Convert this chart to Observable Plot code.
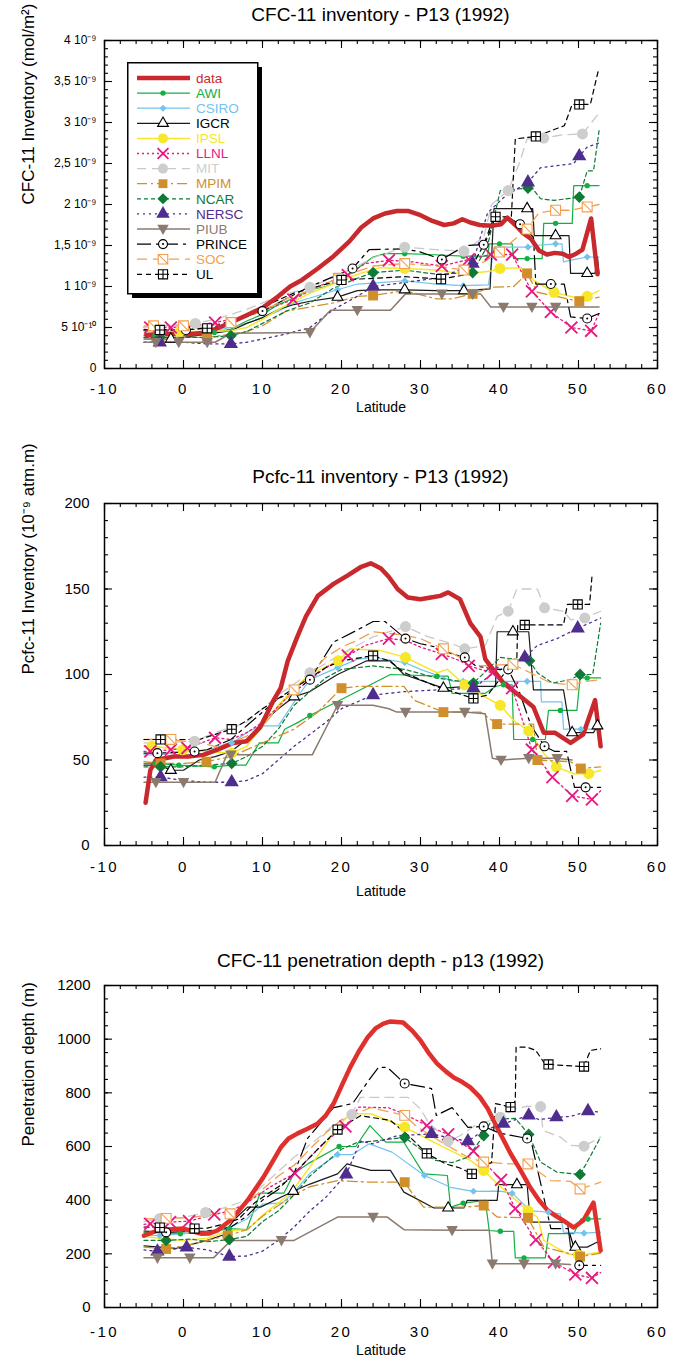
<!DOCTYPE html>
<html><head><meta charset="utf-8">
<script src="https://cdn.jsdelivr.net/npm/d3@7"></script>
<script src="https://cdn.jsdelivr.net/npm/@observablehq/plot@0.6"></script>
<style>
body{margin:0;background:#fff;font-family:"Liberation Sans",Arial,Helvetica,sans-serif;}
#root{position:relative;width:675px;height:1365px;overflow:hidden;background:#fff;}
.title{position:absolute;left:104px;width:553px;text-align:center;font-size:19px;line-height:22px;color:#000;}
.panel{position:absolute;left:0;}
.legend{position:absolute;}
</style></head><body><div id="root"></div>
<script>
// ---------- tick labels ----------
const xMajorTicks = [-10, 0, 10, 20, 30, 40, 50, 60];
const xTickLabels = ["-10", "0", "10", "20", "30", "40", "50", "60"];
const p1YTicks = [0, 0.5, 1, 1.5, 2, 2.5, 3, 3.5, 4];
const p1YLabels = ["0", "5 10⁻¹⁰", "1 10⁻⁹", "1,5 10⁻⁹", "2 10⁻⁹", "2,5 10⁻⁹", "3 10⁻⁹", "3,5 10⁻⁹", "4 10⁻⁹"];
const p2YTicks = [0, 50, 100, 150, 200];
const p2YLabels = ["0", "50", "100", "150", "200"];
const p3YTicks = [0, 200, 400, 600, 800, 1000, 1200];
const p3YLabels = ["0", "200", "400", "600", "800", "1000", "1200"];
const titles = ["CFC-11 inventory - P13 (1992)", "Pcfc-11 inventory - P13 (1992)", "CFC-11 penetration depth - p13 (1992)"];
const yTitles = ["CFC-11 Inventory (mol/m²)", "Pcfc-11 Inventory (10⁻⁹ atm.m)", "Penetration depth (m)"];
const modelNames = ["AWI","CSIRO","IGCR","IPSL","LLNL","MIT","MPIM","NCAR","NERSC","PIUB","PRINCE","SOC","UL"];

// ---------- PANEL 1 : CFC-11 inventory (units of 1e-9 mol/m2) [lat, value, marker] ----------
const p1_data = [[-4.7,0.41],[-3,0.42],[-1,0.42],[1,0.42],[3,0.44],[4.5,0.5],[6,0.56],[8,0.65],[10,0.74],[12,0.88],[13.5,1.0],[15,1.08],[17,1.22],[19,1.37],[21,1.55],[22.5,1.72],[24,1.83],[25.5,1.89],[27,1.92],[28.5,1.92],[30,1.87],[31.5,1.8],[33,1.75],[34.2,1.77],[35.3,1.82],[36.3,1.78],[37.5,1.75],[39,1.74],[40.2,1.76],[41,1.84],[42,1.75],[43,1.65],[44,1.58],[45,1.44],[46,1.39],[47,1.41],[48,1.40],[48.8,1.36],[49.7,1.40],[50.5,1.45],[51.6,1.83],[52.4,1.15]];
const p1_AWI = [[-5,0.40],[-3.6,0.41,1],[-0.6,0.42,1],[3.9,0.44,1],[6,0.48],[8,0.58],[10,0.66],[12,0.78],[14,0.86],[16,0.96,1],[18,1.0],[20,1.08],[22,1.22],[24,1.36],[25.5,1.40],[28,1.40,1],[31,1.39],[35.4,1.37,1],[38.5,1.37],[38.7,1.52],[40,1.52,1],[41.6,1.52],[41.8,1.34],[43.5,1.34,1],[45.4,1.34],[45.6,1.77],[47.1,1.77,1],[49.2,1.77],[49.4,2.23],[51.1,2.23,1],[52.6,2.23]];
const p1_CSIRO = [[-5,0.42],[-3,0.42,1],[0,0.43],[3,0.45],[6,0.50],[8,0.55],[10,0.62],[12,0.70],[14,0.80],[16,0.86],[19.5,0.96,1],[22,1.03],[24,1.04],[28,1.07,1],[32,1.03],[35.4,1.01,1],[38.6,1.02],[39.3,1.48],[43.6,1.48,1],[44.5,1.50],[47.1,1.52,1],[47.9,1.52],[48.1,1.30],[49.5,1.33],[51.1,1.36,1],[52.6,1.36]];
const p1_IGCR = [[-5,0.36],[-1.6,0.36,1],[0,0.38],[3,0.42],[6,0.46],[8,0.55],[10,0.62],[12,0.72],[14,0.78],[16,0.82],[19.5,0.87,1],[22,0.95],[24,0.96],[28,0.96,1],[32,0.95],[35.5,0.95,1],[38.8,0.97],[39.3,1.95],[43.5,1.95,1],[44.2,1.95],[44.4,1.62],[47.1,1.62,1],[48.8,1.62],[49,1.16],[51.1,1.16,1],[52.1,1.16],[52.4,1.36],[52.6,1.16]];
const p1_IPSL = [[-5,0.45],[-3.5,0.45],[-0.5,0.45,1],[3,0.45],[6,0.46],[8,0.5],[10,0.6],[12,0.72],[14,0.82],[16,0.92],[19.5,1.05],[22,1.15],[24.9,1.23],[28,1.22,1],[32,1.2],[35.5,1.15],[38.9,1.19],[40.05,1.22,1],[42.7,1.23],[44.4,1.07],[46.9,0.93,1],[49.4,0.87],[51.1,0.88,1],[52.6,0.95]];
const p1_LLNL = [[-5,0.5],[-4.2,0.5,1],[-1.6,0.5,1],[1,0.52],[4,0.56,1],[7,0.62],[10,0.70],[13.9,0.84,1],[17,1.0],[20.8,1.14,1],[23,1.28],[26,1.32,1],[29,1.3],[32.7,1.25,1],[36.1,1.33,1],[38.9,1.39,1],[41.6,1.39,1],[44.1,0.94,1],[46.5,0.69,1],[49.1,0.50,1],[51.6,0.46,1],[52.6,0.67]];
const p1_MIT = [[-5,0.5],[-3,0.52],[1.5,0.55,1],[4,0.6],[8,0.72],[12,0.88],[16,0.99,1],[20,1.15],[24,1.35],[28,1.48,1],[32,1.45],[35.5,1.43,1],[38,1.6],[39,2.0],[41.1,2.17,1],[42.5,2.5],[43.5,2.8],[45.6,2.81,1],[48,2.85],[50.5,2.86,1],[52.4,3.09]];
const p1_MPIM = [[-5,0.38],[-3,0.38,1],[0,0.38],[3,0.38,1],[6,0.42],[8,0.45],[10,0.52],[13,0.7],[16,0.75],[19,0.8],[22,0.88],[24,0.89,1],[28,0.95],[32,0.85],[34,0.85],[36.6,0.91,1],[38.9,0.99],[41.8,1.0],[43.5,1.16,1],[44.8,0.93],[48.6,0.85],[50.1,0.82,1],[52.6,0.87]];
const p1_NCAR = [[-5,0.38],[-3,0.38,1],[0,0.38],[3,0.38],[6,0.40,1],[8,0.45],[10,0.55],[13,0.7],[16,0.8],[19,0.98],[22,1.1],[24,1.17,1],[28,1.2],[32,1.15],[36.6,1.17,1],[38.5,1.5],[40.1,2.17],[43.6,2.2,1],[43.9,2.23],[45.2,2.07],[46.9,2.05],[50.1,2.09,1],[51.1,2.41],[51.9,2.41],[52.6,2.9]];
const p1_NERSC = [[-5,0.32],[-3,0.32,1],[0,0.32],[3,0.30],[6,0.30,1],[8,0.32],[10,0.36],[13,0.42],[16,0.5],[19,0.72],[22,0.88],[24,1.0,1],[28,1.05],[32,1.1],[35,1.2],[36.6,1.28,1],[38.5,1.9],[40.7,2.1],[43.6,2.27,1],[45.2,2.45],[49.4,2.5],[50.1,2.59,1],[51.1,2.7],[52.6,2.75]];
const p1_PIUB = [[-5,0.32],[-3.5,0.32,1],[-0.6,0.32,1],[3,0.32,1],[4,0.32],[6,0.43],[16,0.44,1],[18.6,0.71],[22,0.71,1],[26.2,0.71],[28.1,0.91],[32.7,0.91,1],[36.6,0.91,1],[37.6,0.91],[38.9,0.75],[40.5,0.75,1],[44.1,0.75,1],[47.1,0.75,1],[52.6,0.75]];
const p1_PRINCE = [[-5,0.47],[0.3,0.47,1],[3,0.5],[6,0.58],[10,0.70,1],[13,0.85],[16,1.0],[19,1.12],[21.4,1.22,1],[23.5,1.45],[28,1.46],[30,1.42],[32.7,1.33,1],[35.7,1.5],[38,1.51,1],[39.2,1.82],[41,1.85],[42.6,1.76,1],[44.3,1.6],[44.6,1.03],[46.5,1.03,1],[48.2,1.03],[49,0.63],[51.1,0.61,1],[52.6,0.67]];
const p1_SOC = [[-5,0.52],[-3.8,0.52,1],[0,0.52,1],[3,0.52],[6,0.56,1],[10,0.7],[13,0.85],[16,0.95],[19.6,1.1,1],[24,1.25],[28,1.28,1],[32,1.25],[35.5,1.2,1],[38,1.3],[40,1.42,1],[43.5,1.7,1],[45,1.9],[47.1,1.93,1],[49,1.93],[51.1,1.97,1],[52.6,2.0]];
const p1_UL = [[-5,0.47],[-3,0.47,1],[0,0.47],[3,0.49,1],[6,0.55],[10,0.75],[14,0.92],[17,1.0],[20,1.08,1],[24,1.1],[28,1.12],[32.6,1.09,1],[36,1.15],[38.5,1.6],[39.5,1.85,1],[41.5,1.85],[42,2.8],[44.6,2.83,1],[48.2,2.96],[49.2,3.22],[50.1,3.22,1],[51.5,3.22],[52.5,3.63]];

// ---------- PANEL 2 : pCFC-11 inventory (1e-9 atm.m) ----------
const p2_data = [[-4.8,25],[-4.2,44],[-3.5,50],[-1.2,52],[0.6,52],[2.5,53],[4.3,56],[6.3,60],[8,61],[9.7,69],[11.4,85],[12.3,92],[13.2,108],[14.4,122],[15.5,134],[17,146],[19,153],[20.8,158],[22.5,163],[23.7,165],[25,162],[26,157],[27.1,150],[28.4,145],[30,144],[31.3,145],[32.5,146],[33.5,148],[35,144],[36.3,130],[37.6,122],[38.2,109],[40.5,95],[42.7,87],[44.3,81],[45.6,66],[47,66],[49,60],[50.6,65],[52.1,85],[52.8,58]];
const p2_AWI = [[-5,48],[-3.6,48,1],[-0.6,47,1],[3.9,46,1],[6,47],[7.9,47],[9.6,60],[12,60],[12.8,68],[14.5,72],[16,76,1],[26.2,100],[32.1,99,1],[33.5,99],[34,89],[38.2,89],[39.5,93],[40.5,94,1],[41.6,94],[41.8,62],[44.2,62,1],[45.8,62],[46.2,79],[47.7,79,1],[49.8,79],[50.2,98],[51.1,98,1],[52.8,98]];
const p2_CSIRO = [[-5,53],[-3,53],[0,55],[3,56],[6.1,60,1],[8,66],[9.7,70],[12,70],[14.6,88],[16,97],[19.5,104,1],[22,109],[24,110],[28,107,1],[30,103],[34.2,96],[35.4,96,1],[39,96],[43.5,96,1],[45.2,96],[45.3,84],[47.9,84],[48.1,68],[50.3,68,1],[52.8,68]];
const p2_IGCR = [[-5,47],[-3,47],[-1.6,44,1],[0,44],[2,50],[4,52],[6,55],[8,62],[10,72],[12,80],[14,87,1],[16,90],[19.5,100],[23.2,108],[26.2,108],[27.9,100],[32.9,92,1],[36,93],[39.5,93],[39.7,125],[41.7,125,1],[43.7,125],[44.3,91],[48.1,91],[49,66],[49.2,66,1],[51.9,66],[52.4,70,1],[52.8,70]];
const p2_IPSL = [[-5,58],[-4,58,1],[-0.1,56,1],[3,55],[6.1,54,1],[8,58],[10,70],[12,82],[14,92],[16,100],[19.6,108,1],[21.1,115],[24.9,114],[28.1,110,1],[32.1,101],[33.4,103],[35.6,94,1],[38.5,86],[40.1,82,1],[41.8,73],[43.7,67,1],[45.6,54],[47.2,46,1],[49.4,42],[51.3,42,1],[52.8,44]];
const p2_LLNL = [[-5,55],[-4.2,55,1],[-1.6,56,1],[0.5,57,1],[4,63,1],[6,62],[8,66],[10,72],[13,86],[16,97],[18,104],[20.8,111,1],[23,117],[26,121,1],[28,120],[30,116],[32.7,112,1],[35,108],[36.1,105,1],[39.1,101,1],[41.6,92,1],[43,72],[44.1,56,1],[46.7,40,1],[49.2,29,1],[51.7,27,1],[52.8,32]];
const p2_MIT = [[-5,60],[-3,60],[1.4,61,1],[4,66],[8,72],[12,88],[16,101,1],[20,112],[24,122],[28.1,128,1],[31,122],[34,118],[35.6,115,1],[38.2,117],[39.7,134],[41.1,137,1],[42.2,150],[44.8,150],[45.7,139,1],[48.1,137],[49,132],[50.8,133,1],[52.8,137]];
const p2_MPIM = [[-5,49],[-2.9,48,1],[0,48],[2.9,49,1],[6,52],[10,60],[14,68],[17,78],[20,92,1],[22,93],[27.9,93],[29.2,85],[32.9,78,1],[37.6,78],[39.7,71,1],[44.3,71],[44.8,50,1],[49,49],[50.3,45,1],[52.8,46]];
const p2_NCAR = [[-5,46],[-2.9,46,1],[0,46],[3,47],[6.1,48,1],[8,52],[10,58],[12,68],[14,82],[16,90],[18,98],[20,103],[24,105],[28,103],[32,98],[36.7,95,1],[40.1,110],[43.8,108,1],[44.8,101],[46.7,95],[49,97],[50.2,100,1],[51.8,100],[52.8,130]];
const p2_NERSC = [[-5,40],[-2.9,40,1],[0,38],[3,37],[6.1,37,1],[8,38],[10,42],[12,50],[14,58],[16,65],[18,72],[20,80],[24,88,1],[28,90],[32,91],[36.7,92,1],[39,100],[41,105],[43.2,110,1],[44.8,117],[47.3,121],[49.9,127,1],[52.8,133]];
const p2_PIUB = [[-5,37],[-3.5,37,1],[0,37,1],[4,37],[5.5,53],[6,53,1],[16.3,53],[19.5,82,1],[24,82],[26,80],[27,78],[28.1,78,1],[35.6,78,1],[38.2,77],[39.1,51],[40.2,50,1],[43.7,51,1],[47.3,51,1],[49.2,50]];
const p2_PRINCE = [[-5,54],[-3.3,54,1],[1.4,55,1],[3,56],[6,62],[8,70],[10,78],[12,86],[14,90],[16,97,1],[19,119],[22,126],[24,131],[25.5,131],[28.1,121,1],[30,118],[32,116],[34,112],[35.6,110,1],[37,105],[39.5,103],[41.1,103,1],[42.5,90],[44,70],[45.7,58,1],[47,55],[48.5,55],[49.5,34],[50.9,34,1],[52.8,34]];
const p2_SOC = [[-5,62],[-1.6,62,1],[2,60],[4,58],[6,60],[8,64],[10,70],[14,91,1],[16,100],[18,110],[20,116],[22,120],[24,125],[28,123],[30,121],[32.9,115,1],[35,110],[37.6,105],[41.7,106,1],[43.9,101],[46.5,95],[49.2,94,1],[51,96],[52.8,97]];
const p2_UL = [[-5,62],[-2.9,62,1],[2,62],[4,65],[6.1,68,1],[8,73],[10,80],[12,86],[14,92],[16,98],[18,104],[20,108],[24,111,1],[26,108],[28,101],[32,93],[36.7,86,1],[38.5,88],[40.5,100],[42.2,110],[42.3,129],[43.2,129,1],[48.1,129],[48.6,141],[49.9,141,1],[51.4,141],[51.7,157]];

// ---------- PANEL 3 : penetration depth (m) ----------
const p3_data = [[-5,268],[-3.3,287],[-1.5,292],[0,294],[1,285],[2.2,275],[3.3,276],[4.3,287],[5.9,324],[7,360],[8.1,399],[10.1,485],[11.2,540],[12.3,596],[13.3,630],[14.4,648],[15.7,666],[17,686],[18,715],[19,760],[20,825],[21.1,895],[22.2,955],[23.3,1006],[24.3,1040],[25.3,1058],[26.2,1066],[27.8,1062],[29,1030],[30,995],[31,950],[32.1,909],[33.2,880],[34.2,857],[35.3,840],[36.3,820],[37.5,785],[38.5,742],[39.7,671],[40.5,625],[41.4,574],[42.6,515],[43.9,447],[45,400],[46.1,362],[47.2,340],[48.1,324],[49.4,298],[50.6,324],[51.3,360],[51.9,391],[52.8,212]];
const p3_AWI = [[-5,280],[-2.5,278],[-0.4,275,1],[3,280],[5.8,294,1],[8,290],[9.7,426],[12.7,426],[14,500],[16,540],[19.7,600,1],[21.8,600],[23.6,678],[25.6,616],[27.9,616],[30.4,498],[33.4,492],[33.8,374],[35.4,389,1],[38.2,399],[38.7,287],[40.1,284,1],[41.8,284],[42,185],[43.1,185,1],[45.8,185],[46.2,275],[49.4,275],[50.3,330],[51.2,330,1],[52.8,330]];
const p3_CSIRO = [[-5,270],[-3,268,1],[0,275],[3,280],[6,300],[8,330],[10,385],[12.5,390],[14,430],[16,500],[19.5,570,1],[21.4,570],[23.5,610],[26.4,579],[30.5,492,1],[33.8,448],[36.7,433,1],[40.1,434],[41.6,426,1],[43.9,361],[46.2,355,1],[47.7,349],[48.1,281],[50.7,277,1],[52.8,281]];
const p3_IGCR = [[-5,230],[-3,225],[-1,220],[1,235],[3,250],[5,270],[6.5,330],[8.1,374],[9.75,374],[13.9,433,1],[16,460],[19.5,498],[20.7,535],[23.7,511],[26.2,511],[27.9,430],[31.7,371],[33.5,371,1],[35.5,371],[35.9,399],[39.7,399],[39.9,458],[42.2,458,1],[43.5,458],[43.9,318],[48.6,318],[49,225],[49.6,225,1],[51.1,225],[52.4,244],[52.8,225]];
const p3_IPSL = [[-5,265],[-3,258],[0,250],[3,258],[5.9,287],[8.1,290],[10.2,349],[13.5,424],[16,523],[19.5,672],[21.1,722],[23.7,722],[28,672,1],[32.1,610],[36.3,548],[38,511,1],[39.7,461],[43.6,361,1],[44.8,337],[45.6,250],[48.6,200],[50,195,1],[52.8,206]];
const p3_LLNL = [[-5,310],[-4.2,312,1],[-1.7,318,1],[0.7,322,1],[3.9,347,1],[6,360],[8,390],[11,450],[14.1,500,1],[16,560],[18,620],[20.5,675,1],[22.2,747],[26,744],[28,720],[30.8,678,1],[33.5,645,1],[36.7,583,1],[40.2,476,1],[42,368,1],[44.6,252,1],[46.9,169,1],[49.6,123,1],[51.7,110,1],[52.8,130]];
const p3_MIT = [[-5,320],[-3,332,1],[0,335],[2.8,354,1],[5,370],[8,400],[11,480],[14,560],[17,630],[19,680],[21.3,719,1],[22.4,783],[28.4,783],[30,740],[31,690],[33.5,620,1],[35,640],[37,680],[40.1,709,1],[42,740],[43.5,750],[45.2,749,1],[45.5,660],[47.7,635],[49,604],[50.7,601,1],[52.8,635]];
const p3_MPIM = [[-5,225],[-2.2,218,1],[1,235],[3,250],[5.6,268,1],[8,290],[10,340],[12,380],[14,420],[16,450],[19.5,473],[23.7,467],[28,467,1],[28.7,436],[30.4,374],[35.5,374],[38,380,1],[39.7,337],[43.6,334,1],[45.6,225],[49,200],[50.2,190,1],[52.8,203]];
const p3_NCAR = [[-5,250],[-2.2,250,1],[1,255],[3,245],[5.8,253,1],[8,265],[10,320],[12,360],[14,420],[16,490],[18,540],[20,590],[22,615],[24,620],[28,634,1],[30,590],[31.9,548],[34,540],[36,560],[38,641,1],[39,700],[42,705],[43.7,645,1],[45.2,542],[47.3,504],[50.2,496,1],[51.1,542],[52.8,635]];
const p3_NERSC = [[-5,215],[-3.3,209,1],[0.4,224,1],[3,215],[5.8,190,1],[8,192],[10,210],[12,250],[14,300],[16,360],[18,410],[20.6,496,1],[22.4,620],[24,610],[27,640],[31.4,647,1],[34,630],[36,620,1],[38,660],[40.5,685,1],[43.7,716,1],[45,700],[47.2,709,1],[49,712],[51.2,732,1],[52.8,728]];
const p3_PIUB = [[-5,185],[-3.3,185,1],[0.8,185,1],[3.8,185],[6,250],[12.4,250,1],[14,250],[19.5,337],[24,337,1],[25.8,337],[27.9,290],[34,288,1],[38.7,288],[39.1,163,1],[43.1,163,1],[47.1,163,1],[49,160]];
const p3_PRINCE = [[-5,285],[-2.2,280,1],[1,283],[3,285],[6,300],[8,340],[10,400],[12,440],[14,500],[15.7,630],[19,745],[21.4,760],[23.7,857],[24.7,895],[25.8,895],[28,835,1],[31.4,816],[32,716],[34,745],[36,671],[38,675,1],[40,650],[43.5,630,1],[44,620],[46.5,294],[48.7,294],[50.1,157,1],[52.8,157]];
const p3_SOC = [[-5,330],[-2.2,332,1],[1,335],[3,345],[5.9,349,1],[8,390],[10,440],[12,490],[14,530],[16,590],[18,650],[20,700],[23.7,745],[28,716,1],[29.6,672],[33,610],[36,560],[38,542,1],[41.4,535],[43.6,535,1],[46.5,473],[49,470],[50.2,442,1],[52.8,467]];
const p3_UL = [[-5,300],[-3,298,1],[0,290],[1.4,294,1],[3,296],[5,310],[7,330],[9,390],[11,430],[13,470],[15,530],[17,590],[19.5,663,1],[22.4,715],[26.2,697],[28.5,640],[30.8,574,1],[33.2,535],[35,520],[36.5,498,1],[38,530],[39,540],[39.5,760],[41.4,747,1],[42,770],[42.1,970],[43.5,970],[44.6,958],[45.6,914],[46.2,906,1],[48.1,902],[50.7,898,1],[51.5,958],[52.8,964]];

// ---------- symbols & styles ----------
const downTri = {draw(ctx, size){const r=Math.sqrt(size/Math.PI); const h=r*1.15; ctx.moveTo(-h,-h*0.75); ctx.lineTo(h,-h*0.75); ctx.lineTo(0,h*1.05); ctx.closePath();}};
const socSym = {draw(ctx, size){const r=Math.sqrt(size/Math.PI)*0.95; ctx.moveTo(-r,-r); ctx.lineTo(r,-r); ctx.lineTo(r,r); ctx.lineTo(-r,r); ctx.closePath(); ctx.moveTo(-r,-r); ctx.lineTo(r,r);}};
const ulSym = {draw(ctx, size){const r=Math.sqrt(size/Math.PI)*0.95; ctx.moveTo(-r,-r); ctx.lineTo(r,-r); ctx.lineTo(r,r); ctx.lineTo(-r,r); ctx.closePath(); ctx.moveTo(0,-r); ctx.lineTo(0,r); ctx.moveTo(-r,0); ctx.lineTo(r,0);}};
const styles = {
  AWI:{color:"#12b044", w:1.2, sym:"circle", r:2.7, fill:"#12b044"},
  CSIRO:{color:"#72c4ee", w:1.2, sym:"diamond2", r:3.2, fill:"#72c4ee"},
  IGCR:{color:"#1a1a1a", w:1.2, sym:"triangle", r:4, fill:"#fff", stroke:"#000"},
  IPSL:{color:"#f6e72a", w:1.5, sym:"circle", r:5.5, fill:"#f6e72a"},
  LLNL:{color:"#e6197f", w:1.3, dash:"2,3", sym:"times", r:5.5, fill:"none", stroke:"#e6197f", sw:1.8},
  MIT:{color:"#c9c9c9", w:1.3, dash:"9,6", sym:"circle", r:5.5, fill:"#cdcdcd"},
  MPIM:{color:"#d18f2b", w:1.3, dash:"10,4,2,4", sym:"square", r:5.6, fill:"#d18f2b"},
  NCAR:{color:"#0e7a35", w:1.2, dash:"4,3", sym:"diamond2", r:5.3, fill:"#0e7a35"},
  NERSC:{color:"#4f2d8e", w:1.3, dash:"2,4", sym:"triangle", r:5.3, fill:"#4f2d8e"},
  PIUB:{color:"#8b7a6f", w:1.5, sym:downTri, r:5, fill:"#8b7a6f"},
  PRINCE:{color:"#000", w:1.2, dash:"14,5,3,5", sym:"circle", r:4.5, fill:"#fff", stroke:"#000", dot:true},
  SOC:{color:"#f2a04f", w:1.3, dash:"10,6", sym:socSym, r:5.2, fill:"#fff", stroke:"#f2a04f"},
  UL:{color:"#000", w:1.2, dash:"5,4", sym:ulSym, r:4.8, fill:"#fff", stroke:"#000"}
};
const dataColor = "#c9282d";

const root = document.getElementById("root");
const W = 675, ML = 104, MR = 18;
const XLAB_FILL = "#010101";

function buildPanel(cfg){
  const fh = cfg.height - cfg.mt - cfg.mb, fw = W - ML - MR;
  const X = d => d[0], Y = d => d[1];
  const marks = [];
  for (const k of modelNames){
    const s = styles[k];
    marks.push(Plot.line(cfg.series[k], {x:X, y:Y, stroke:s.color, strokeWidth:s.w, strokeDasharray:s.dash}));
  }
  marks.push(Plot.line(cfg.data, {x:X, y:Y, stroke:cfg.dataColor || dataColor, strokeWidth:4.5, strokeLinejoin:"round", strokeLinecap:"round"}));
  for (const k of modelNames){
    const s = styles[k];
    const pts = cfg.series[k].filter(d => d[2]);
    marks.push(Plot.dot(pts, {x:X, y:Y, symbol:s.sym, r:s.r, fill:s.fill, stroke:s.stroke || "none", strokeWidth:s.sw || 1.1}));
    if (s.dot) marks.push(Plot.dot(pts, {x:X, y:Y, r:1, fill:"#000"}));
  }
  const xMinor = d3.range(-10, 60.01, 2);
  const yMinor = d3.range(0, cfg.yDomain[1] + 1e-9, cfg.yMinorStep);
  const tick = {stroke:"#000", strokeWidth:1.1};
  marks.push(
    Plot.tickX(xMinor, {x:d=>d, insetTop:fh-4, ...tick}),
    Plot.tickX(xMinor, {x:d=>d, insetBottom:fh-4, ...tick}),
    Plot.tickX(xMajorTicks, {x:d=>d, insetTop:fh-8, ...tick}),
    Plot.tickX(xMajorTicks, {x:d=>d, insetBottom:fh-8, ...tick}),
    Plot.tickY(yMinor, {y:d=>d, insetRight:fw-4, ...tick}),
    Plot.tickY(yMinor, {y:d=>d, insetLeft:fw-4, ...tick}),
    Plot.tickY(cfg.yTicks, {y:d=>d, insetRight:fw-8, ...tick}),
    Plot.tickY(cfg.yTicks, {y:d=>d, insetLeft:fw-8, ...tick}),
    Plot.frame({stroke:"#000", strokeWidth:1.5}),
    Plot.text(xMajorTicks, {x:d=>d, frameAnchor:"bottom", dy:cfg.xLabDy, text:(d,i)=>xTickLabels[i], fontSize:15, fill:XLAB_FILL}),
    Plot.text(cfg.yTicks, {y:d=>d, frameAnchor:"left", dx:cfg.yLabDx, textAnchor:"end", text:(d,i)=>cfg.yLabels[i], fontSize:cfg.yFont, fill:"#000"}),
    Plot.text([cfg.yTitle], {frameAnchor:"left", dx:-76, rotate:-90, fontSize:17, fill:"#000"}),
    Plot.text(["Latitude"], {frameAnchor:"bottom", dy:cfg.latDy, fontSize:14, fill:"#000"})
  );
  const chart = Plot.plot({
    width:W, height:cfg.height, marginLeft:ML, marginRight:MR, marginTop:cfg.mt, marginBottom:cfg.mb,
    x:{domain:[-10,60], axis:null}, y:{domain:cfg.yDomain, axis:null},
    style:{fontFamily:'"Liberation Sans", Arial, Helvetica, sans-serif', background:"#fff", overflow:"visible"},
    marks
  });
  d3.select(chart).selectAll(`g[fill="${XLAB_FILL}"] text`).style("letter-spacing", "2.5px");
  const holder = document.createElement("div");
  holder.className = "panel"; holder.style.top = cfg.top + "px";
  holder.appendChild(chart);
  root.appendChild(holder);
  const t = document.createElement("div");
  t.className = "title"; t.style.top = cfg.titleTop + "px"; t.textContent = cfg.title;
  root.appendChild(t);
}

const p1Series = {AWI:p1_AWI,CSIRO:p1_CSIRO,IGCR:p1_IGCR,IPSL:p1_IPSL,LLNL:p1_LLNL,MIT:p1_MIT,MPIM:p1_MPIM,NCAR:p1_NCAR,NERSC:p1_NERSC,PIUB:p1_PIUB,PRINCE:p1_PRINCE,SOC:p1_SOC,UL:p1_UL};
const p2Series = {AWI:p2_AWI,CSIRO:p2_CSIRO,IGCR:p2_IGCR,IPSL:p2_IPSL,LLNL:p2_LLNL,MIT:p2_MIT,MPIM:p2_MPIM,NCAR:p2_NCAR,NERSC:p2_NERSC,PIUB:p2_PIUB,PRINCE:p2_PRINCE,SOC:p2_SOC,UL:p2_UL};
const p3Series = {AWI:p3_AWI,CSIRO:p3_CSIRO,IGCR:p3_IGCR,IPSL:p3_IPSL,LLNL:p3_LLNL,MIT:p3_MIT,MPIM:p3_MPIM,NCAR:p3_NCAR,NERSC:p3_NERSC,PIUB:p3_PIUB,PRINCE:p3_PRINCE,SOC:p3_SOC,UL:p3_UL};

buildPanel({top:30, height:388, mt:10, mb:50, yDomain:[0,4], yTicks:p1YTicks, yLabels:p1YLabels, yMinorStep:0.1, yFont:12, yLabDx:-8, xLabDy:25, latDy:43, yTitle:yTitles[0], series:p1Series, data:p1_data, title:titles[0], titleTop:4});
buildPanel({top:493, height:407, mt:10, mb:55, yDomain:[0,200], yTicks:p2YTicks, yLabels:p2YLabels, yMinorStep:10, yFont:15, yLabDx:-15, xLabDy:26, latDy:50, yTitle:yTitles[1], series:p2Series, data:p2_data, title:titles[1], titleTop:466});
buildPanel({top:975, height:390, mt:10, mb:58, yDomain:[0,1200], yTicks:p3YTicks, yLabels:p3YLabels, yMinorStep:50, yFont:15, yLabDx:-14, xLabDy:29, latDy:47, yTitle:yTitles[2], series:p3Series, data:p3_data, dataColor:"#e0302d", title:titles[2], titleTop:950});

// ---------- legend (panel 1) ----------
const symMap = {circle:d3.symbolCircle, diamond2:d3.symbolDiamond2, triangle:d3.symbolTriangle, times:d3.symbolTimes, square:d3.symbolSquare};
const lg = d3.create("svg").attr("width",140).attr("height",242).attr("class","legend")
  .style("left","127px").style("top","62px").style("position","absolute");
lg.append("rect").attr("x",5).attr("y",5).attr("width",130).attr("height",231).attr("fill","#000");
lg.append("rect").attr("x",0.75).attr("y",0.75).attr("width",130).attr("height",231).attr("fill","#fff").attr("stroke","#000").attr("stroke-width",1.5);
const rows = [{name:"data", color:dataColor, w:4.5}].concat(modelNames.map(k => ({name:k, ...styles[k]})));
const textColor = {IGCR:"#000", PRINCE:"#000", UL:"#000", MIT:"#cfcfcf"};
rows.forEach((r, i) => {
  const y = 16 + i*15.1;
  const g = lg.append("g").attr("transform", `translate(0,${y})`);
  g.append("line").attr("x1",10).attr("x2",63).attr("y1",0).attr("y2",0).attr("stroke",r.color).attr("stroke-width",r.w).attr("stroke-dasharray", r.dash || null);
  if (r.sym){
    const sym = typeof r.sym === "string" ? symMap[r.sym] : r.sym;
    const rr = Math.min(r.r, 5);
    g.append("path").attr("transform","translate(36,0)").attr("d", d3.symbol(sym, rr*rr*Math.PI)())
      .attr("fill", r.fill).attr("stroke", r.stroke || "none").attr("stroke-width", r.sw || 1.1);
    if (r.dot) g.append("circle").attr("cx",36).attr("cy",0).attr("r",1).attr("fill","#000");
  }
  g.append("text").attr("x",69).attr("y",0).attr("dy","0.35em").attr("font-size",13.5)
    .attr("font-family",'"Liberation Sans", Arial, sans-serif')
    .attr("fill", textColor[r.name] || r.color).text(r.name);
});
root.appendChild(lg.node());
</script></body></html>
